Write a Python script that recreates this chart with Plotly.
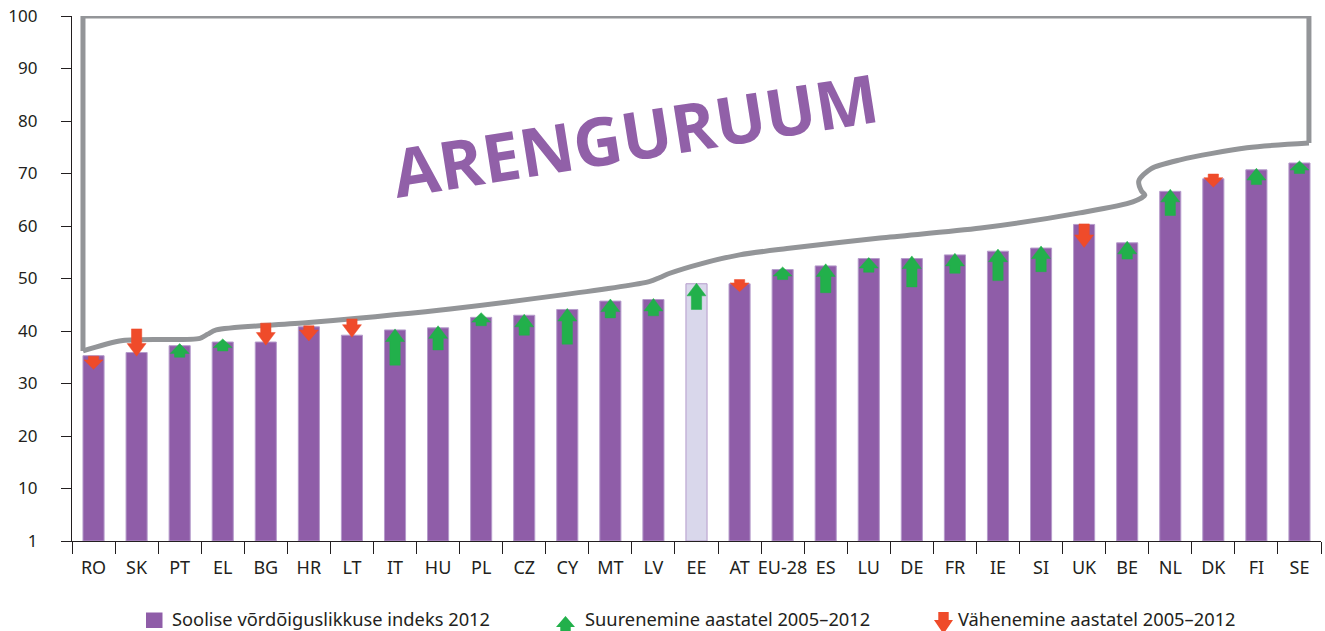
import plotly.graph_objects as go

# ---------------- data ----------------
countries = ["RO", "SK", "PT", "EL", "BG", "HR", "LT", "IT", "HU", "PL", "CZ", "CY",
             "MT", "LV", "EE", "AT", "EU-28", "ES", "LU", "DE", "FR", "IE", "SI",
             "UK", "BE", "NL", "DK", "FI", "SE"]
index_2012 = [35.3, 35.9, 37.2, 37.9, 37.9, 40.8, 39.2, 40.2, 40.6, 42.6, 43.0, 44.1,
              45.7, 46.0, 49.0, 49.0, 51.7, 52.4, 53.8, 53.8, 54.5, 55.2, 55.8,
              60.3, 56.8, 66.6, 69.0, 70.7, 72.0]
# change arrows 2005 -> 2012 (start of arrow, tip of arrow)
arrow_start = [35.2, 40.4, 35.0, 36.2, 41.5, 41.0, 42.3, 33.5, 36.4, 41.0, 39.2, 37.5,
               42.5, 42.9, 44.1, 49.8, 49.8, 47.3, 51.2, 48.4, 51.0, 49.6, 51.3,
               60.4, 53.7, 62.0, 69.9, 67.9, 70.0]
arrow_end = [32.7, 35.2, 37.6, 38.5, 37.3, 38.1, 38.8, 40.4, 41.0, 43.5, 43.2, 44.3,
             46.1, 46.2, 49.1, 47.5, 52.2, 52.8, 54.0, 54.3, 54.8, 55.6, 56.2,
             55.9, 57.1, 67.0, 67.4, 71.0, 72.4]
highlight = "EE"

y_tickvals = [0, 10, 20, 30, 40, 50, 60, 70, 80, 90, 100]
y_ticktext = ["1", "10", "20", "30", "40", "50", "60", "70", "80", "90", "100"]

# "ARENGURUUM" region outline (category index, index value)
box_x = [-0.245, -0.245, 28.22, 28.22]
box_y = [36.2, 100, 100, 75.8]
curve_x = [28.22, 26.78, 25.23, 24.55, 24.27, 24.33, 24.41, 24.13, 22.90, 20.60, 18.26,
           16.10, 15.00, 14.10, 13.38, 13.15, 12.90, 8.28, 5.00, 2.85, 2.65, 2.47, 0.68, -0.245]
curve_y = [75.8, 74.9, 72.6, 70.9, 68.6, 66.7, 65.9, 64.6, 62.5, 59.6, 57.7,
           55.7, 54.5, 52.8, 51.0, 50.2, 49.4, 44.2, 41.6, 40.2, 39.4, 38.6, 38.2, 36.2]

legend_labels = ["Soolise võrdõiguslikkuse indeks 2012",
                 "Suurenemine aastatel 2005–2012",
                 "Vähenemine aastatel 2005–2012"]

# ---------------- styles ----------------
PURPLE = "#8F5DA8"
LAVENDER = "#D9D7EB"
GREEN = "#22B04B"
RED = "#EF4B2A"
GRAY = "#939598"
TXT = "#231F20"
FONT = "Noto Sans"

W, H = 1325, 631
L, R, T, B = 72, 4, 16, 90
PW, PH = W - L - R, H - T - B


def px2paper(x, y):
    """pixel position -> paper coordinates"""
    return (x - L) / PW, (H - B - y) / PH


fig = go.Figure()

fig.add_bar(
    x=countries, y=index_2012,
    marker=dict(color=[LAVENDER if c == highlight else PURPLE for c in countries],
                line=dict(color="#B59BCB", width=1)),
    hoverinfo="x+y", showlegend=False,
)

# arrows as polygons on a numeric overlay axis
hw, sw = 0.22, 0.12
green_x, green_y, red_x, red_y = [], [], [], []
for i, (s, e) in enumerate(zip(arrow_start, arrow_end)):
    d = 1 if e > s else -1
    ln = abs(e - s)
    hh = min(2.4, 0.72 * ln)
    hb = e - d * hh
    xs = [i - sw, i - sw, i - hw, i, i + hw, i + sw, i + sw, i - sw, None]
    ys = [s, hb, hb, e, hb, hb, s, s, None]
    if d > 0:
        green_x += xs
        green_y += ys
    else:
        red_x += xs
        red_y += ys

fig.add_scatter(x=box_x, y=box_y, xaxis="x2", mode="lines",
                line=dict(color=GRAY, width=5), hoverinfo="skip", showlegend=False)
fig.add_scatter(x=curve_x, y=curve_y, xaxis="x2", mode="lines",
                line=dict(color=GRAY, width=5, shape="spline", smoothing=0.8),
                hoverinfo="skip", showlegend=False)
fig.add_scatter(x=green_x, y=green_y, xaxis="x2", mode="lines", fill="toself",
                fillcolor=GREEN, line=dict(color=GREEN, width=0.5),
                hoverinfo="skip", showlegend=False)
fig.add_scatter(x=red_x, y=red_y, xaxis="x2", mode="lines", fill="toself",
                fillcolor=RED, line=dict(color=RED, width=0.5),
                hoverinfo="skip", showlegend=False)

# ---------------- manual legend ----------------
shapes = []
x0, y0 = px2paper(146, 628)
x1, y1 = px2paper(162.5, 612.5)
shapes.append(dict(type="rect", xref="paper", yref="paper", x0=x0, x1=x1, y0=y0, y1=y1,
                   fillcolor=PURPLE, line=dict(width=0)))


def arrow_path(cx, y_start, y_tip, head_h, hwp=9.5, swp=5.2):
    d = 1 if y_tip < y_start else -1
    hb = y_tip + d * head_h
    pts = [(cx - swp, y_start), (cx - swp, hb), (cx - hwp, hb), (cx, y_tip),
           (cx + hwp, hb), (cx + swp, hb), (cx + swp, y_start)]
    s = ""
    for k, (px, py) in enumerate(pts):
        a, b = px2paper(px, py)
        s += ("M" if k == 0 else "L") + f"{a:.5f},{b:.5f} "
    return s + "Z"


shapes.append(dict(type="path", xref="paper", yref="paper",
                   path=arrow_path(565.5, 642, 616, 11), fillcolor=GREEN, line=dict(width=0)))
shapes.append(dict(type="path", xref="paper", yref="paper",
                   path=arrow_path(943.5, 612, 634, 14), fillcolor=RED, line=dict(width=0)))

annotations = []
for lab, xpx in zip(legend_labels, [171, 584, 957]):
    ax, ay = px2paper(xpx, 618.8)
    annotations.append(dict(text=lab, xref="paper", yref="paper", x=ax, y=ay,
                            xanchor="left", yanchor="middle", showarrow=False,
                            borderpad=0, font=dict(family=FONT, size=18.3, color=TXT)))

ax, ay = px2paper(635, 134)
annotations.append(dict(text="<b>ARENGURUUM</b>", xref="paper", yref="paper", x=ax, y=ay,
                        xanchor="center", yanchor="middle", showarrow=False, textangle=-9,
                        font=dict(family="Open Sans", size=67, color="#9160A8")))

fig.update_layout(
    width=W, height=H,
    margin=dict(l=L, r=R, t=T, b=B, autoexpand=False),
    paper_bgcolor="white", plot_bgcolor="white",
    bargap=0.51,
    font=dict(family=FONT, color=TXT),
    xaxis=dict(type="category", range=[-0.5, 28.5], tickson="boundaries",
               ticks="outside", ticklen=12, tickwidth=1.3, tickcolor=TXT,
               showline=True, linecolor=TXT, linewidth=1.3, showgrid=False,
               tickangle=0, automargin=False, ticklabeloverflow="allow",
               tickfont=dict(family=FONT, size=18, color=TXT), ticklabelstandoff=10),
    xaxis2=dict(overlaying="x", range=[-0.5, 28.5], visible=False),
    yaxis=dict(range=[0, 100], tickvals=y_tickvals, ticktext=y_ticktext,
               ticks="outside", ticklen=10, tickwidth=1.3, tickcolor=TXT,
               showline=True, linecolor=TXT, linewidth=1.3, showgrid=False,
               zeroline=False, automargin=False, ticklabeloverflow="allow",
               tickfont=dict(family=FONT, size=17, color=TXT),
               ticklabelstandoff=20),
    shapes=shapes, annotations=annotations,
)

# remove the browser's default 8px page margin so the figure fills the window
fig.write_html("out.html", config={"displayModeBar": False},
               post_script="document.body.style.margin='0';")
